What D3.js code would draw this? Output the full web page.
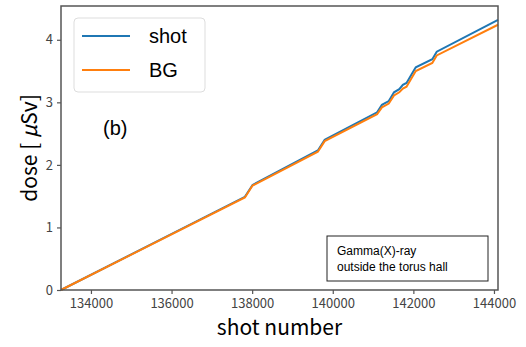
<!DOCTYPE html>
<html>
<head>
<meta charset="utf-8">
<script src="https://cdn.jsdelivr.net/npm/d3@7"></script>
<style>
  body { margin: 0; background: #fff; }
  text { font-family: "Noto Sans CJK JP", "Noto Sans", sans-serif; }
</style>
</head>
<body>
<svg id="chart"></svg>
<script>
// shot numbers at the corners of the curves
const shots = [133257, 137820, 138010, 139630, 139800, 141100, 141220, 141390, 141520,
               141650, 141740, 141830, 141950, 142060, 142470, 142580, 144100];
const shotDose = [0, 1.49, 1.68, 2.23, 2.40, 2.84, 2.96, 3.02, 3.16,
                  3.21, 3.28, 3.31, 3.44, 3.56, 3.69, 3.81, 4.32];
const bgDose = [0, 1.48, 1.67, 2.21, 2.38, 2.81, 2.92, 2.98, 3.11,
                3.16, 3.22, 3.25, 3.38, 3.50, 3.63, 3.75, 4.24];
const xTicks = [134000, 136000, 138000, 140000, 142000, 144000];
const yTicks = [0, 1, 2, 3, 4];

const width = 526;
const height = 347;
const margin = { top: 6, right: 28, bottom: 57, left: 61 };

const svg = d3.select("#chart")
    .attr("width", width)
    .attr("height", height);

const xScale = d3.scaleLinear()
    .domain([133257, 144100])
    .range([margin.left, width - margin.right]);

const yScale = d3.scaleLinear()
    .domain([0, 4.54])
    .range([height - margin.bottom, margin.top]);

const line = d3.line()
    .x((d, i) => xScale(shots[i]))
    .y(d => yScale(d));

svg.append("path")
    .datum(shotDose)
    .attr("fill", "none")
    .attr("stroke", "#1f77b4")
    .attr("stroke-width", 2)
    .attr("d", line);

svg.append("path")
    .datum(bgDose)
    .attr("fill", "none")
    .attr("stroke", "#ff7f0e")
    .attr("stroke-width", 2)
    .attr("d", line);

// frame
svg.append("rect")
    .attr("x", margin.left)
    .attr("y", margin.top)
    .attr("width", width - margin.left - margin.right)
    .attr("height", height - margin.top - margin.bottom)
    .attr("fill", "none")
    .attr("stroke", "#555")
    .attr("stroke-width", 1.5);

const xAxis = svg.append("g")
    .attr("transform", `translate(0, ${height - margin.bottom})`)
    .call(d3.axisBottom(xScale).tickValues(xTicks).tickFormat(d3.format("d")).tickSize(4).tickPadding(5));

const yAxis = svg.append("g")
    .attr("transform", `translate(${margin.left}, 0)`)
    .call(d3.axisLeft(yScale).tickValues(yTicks).tickFormat(d3.format("d")).tickSize(4).tickPadding(4));

[xAxis, yAxis].forEach(g => {
  g.select(".domain").remove();
  g.selectAll(".tick line").attr("stroke", "#555").attr("stroke-width", 1.2);
  g.selectAll(".tick text")
    .attr("fill", "#444")
    .style("font-size", "13px")
    .style("font-family", "'Noto Sans CJK JP', sans-serif");
});

svg.append("text")
  .attr("x", (margin.left + width - margin.right) / 2)
  .attr("y", 335)
  .attr("text-anchor", "middle")
  .style("font-size", "21px")
  .text("shot number");

svg.append("text")
  .attr("transform", `translate(37, ${(margin.top + height - margin.bottom) / 2}) rotate(-90)`)
  .attr("text-anchor", "middle")
  .style("font-size", "21px")
  .html('dose [ <tspan font-style="italic">μ</tspan>Sv]');

// legend
const legend = svg.append("g");
legend.append("rect")
    .attr("x", 74).attr("y", 18)
    .attr("width", 131).attr("height", 74)
    .attr("rx", 4)
    .attr("fill", "#fff")
    .attr("stroke", "#ddd");

const legendItems = [["shot", "#1f77b4"], ["BG", "#ff7f0e"]];
legendItems.forEach((item, i) => {
  const y = 36 + i * 34;
  legend.append("line")
      .attr("x1", 82).attr("x2", 130)
      .attr("y1", y).attr("y2", y)
      .attr("stroke", item[1])
      .attr("stroke-width", 2);
  legend.append("text")
      .attr("x", 149).attr("y", y + 7)
      .style("font-size", "20px")
      .style("font-family", "'Liberation Sans', Arial, sans-serif")
      .text(item[0]);
});

svg.append("text")
  .attr("x", 103).attr("y", 135)
  .style("font-size", "20px")
  .style("font-family", "'Liberation Sans', Arial, sans-serif")
  .text("(b)");

// annotation box
svg.append("rect")
    .attr("x", 327).attr("y", 236)
    .attr("width", 161).attr("height", 45)
    .attr("fill", "#fff")
    .attr("stroke", "#222")
    .attr("stroke-width", 1);

["Gamma(X)-ray", "outside the torus hall"].forEach((t, i) => {
  svg.append("text")
    .attr("x", 337).attr("y", 255 + i * 16)
    .style("font-size", "12px")
    .style("font-family", "'Liberation Sans', Arial, sans-serif")
    .text(t);
});
</script>
</body>
</html>
